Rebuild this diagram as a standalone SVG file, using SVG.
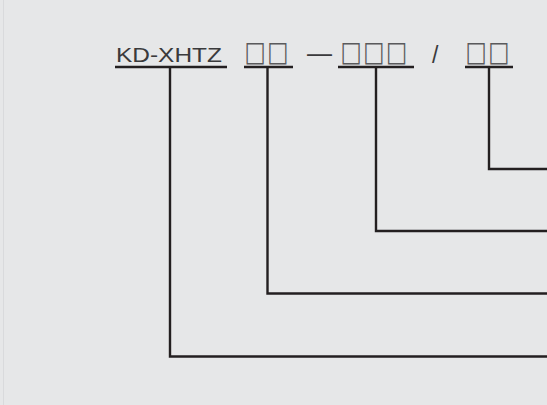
<svg xmlns="http://www.w3.org/2000/svg" width="547" height="405" viewBox="0 0 547 405">
<style>
.t{font-family:"Liberation Sans",Arial,sans-serif;fill:#3a3a3c}
.b{font-family:"DejaVu Sans",sans-serif;font-size:22.5px;letter-spacing:1.5px;fill:#5a5a5c}
.u{stroke:#231f20;stroke-width:2.5;fill:none}
.c{stroke:#231f20;stroke-width:2.4;fill:none;stroke-linejoin:miter}
</style>
<rect x="0" y="0" width="547" height="405" fill="#e6e7e8"/>
<line x1="3.5" y1="0" x2="3.5" y2="405" stroke="#d9dadc" stroke-width="1"/>
<g id="seg-model">
<text class="t" x="116" y="62" font-size="20" textLength="106" lengthAdjust="spacingAndGlyphs">KD-XHTZ</text>
<line class="u" x1="115" y1="67" x2="227" y2="67"/>
</g>
<g id="seg-a">
<text class="b" x="244.5" y="61.5" transform="matrix(1,0,0,1.25,0,-15.4)">□□</text>
<line class="u" x1="244" y1="67" x2="293" y2="67"/>
</g>
<g id="sep-dash">
<text class="t" x="307" y="62" font-size="25">—</text>
</g>
<g id="seg-b">
<text class="b" x="340.5" y="61.5" transform="matrix(1,0,0,1.25,0,-15.4)">□□□</text>
<line class="u" x1="338" y1="67" x2="414" y2="67"/>
</g>
<g id="sep-slash">
<text class="t" x="432" y="63" font-size="23">/</text>
</g>
<g id="seg-c">
<text class="b" x="465.5" y="61.5" transform="matrix(1,0,0,1.25,0,-15.4)">□□</text>
<line class="u" x1="465" y1="67" x2="513" y2="67"/>
</g>
<g id="connectors">
<polyline class="c" points="170,67 170,356.5 547,356.5"/>
<polyline class="c" points="267.5,67 267.5,293.5 547,293.5"/>
<polyline class="c" points="376,67 376,231 547,231"/>
<polyline class="c" points="489,67 489,169 547,169"/>
</g>
</svg>
